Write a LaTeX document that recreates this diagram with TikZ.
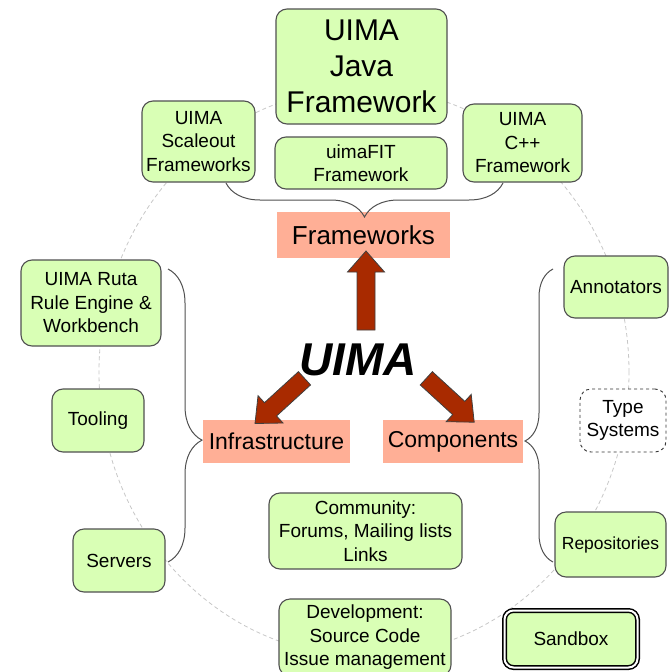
\documentclass[tikz,border=0pt]{standalone}
\usepackage{fontspec}
\setmainfont{Liberation Sans}
\usetikzlibrary{calc,decorations.pathreplacing}

\definecolor{uimagreen}{RGB}{217,255,181}
\definecolor{uimasalmon}{RGB}{255,175,150}
\definecolor{uimared}{RGB}{168,42,0}
\definecolor{uimaedge}{RGB}{80,80,80}

\newcommand\uimahugefont{\fontsize{30}{36}\selectfont}
\newcommand\uimabigfont{\fontsize{26}{30}\selectfont}
\newcommand\uimamidfont{\fontsize{23}{27}\selectfont}
\newcommand\uimafont{\fontsize{19}{23.5}\selectfont}
\newcommand\uimasmallfont{\fontsize{17.5}{21}\selectfont}
\newcommand\uimashaft{9pt}
\newcommand\uimawing{18.5pt}
\newcommand\uimahead{21pt}
\newcommand\uimaarrow[2]{
  \coordinate (#1-base) at ($(#2)!\uimahead!(#1)$) ;
  \draw[fatarrow] ($(#1)!\uimashaft!90:(#2)$) -- ($(#1-base)!\uimashaft!90:(#2)$)
    -- ($(#1-base)!\uimawing!90:(#2)$) -- (#2) -- ($(#1-base)!\uimawing!-90:(#2)$)
    -- ($(#1-base)!\uimashaft!-90:(#2)$) -- ($(#1)!\uimashaft!-90:(#2)$) -- cycle ;
}

\begin{document}
\begin{tikzpicture}[x=1pt, y=-1pt,
    greenbox/.style={draw=uimaedge, line width=1.1pt, fill=uimagreen, rounded corners=11pt,
      inner sep=0pt, align=center, font=\uimafont},
    salmonbox/.style={fill=uimasalmon, inner sep=0pt, font=\uimamidfont},
    ringline/.style={draw=black!22, line width=0.8pt, dash pattern=on 4pt off 3pt},
    bracestyle/.style={draw=uimaedge, line width=1pt, decorate},
    fatarrow/.style={fill=uimared, draw=black!75, line width=0.8pt, line join=miter}]
    \useasboundingbox (0,0) rectangle (669,672) ;
    \draw[ringline] (364,372) ellipse [x radius=265pt, y radius=284pt] ;
    % frameworks
    \node[greenbox, font=\uimahugefont, minimum width=171pt, minimum height=115pt] (java) at (361.5,66.5) {UIMA\\Java\\Framework} ;
    \node[greenbox, minimum width=113pt, minimum height=81pt] (scaleout) at (198.5,141.5) {UIMA\\Scaleout\\Frameworks} ;
    \node[greenbox, minimum width=172pt, minimum height=52pt] (uimafit) at (361,163) {uimaFIT\\Framework} ;
    \node[greenbox, minimum width=119pt, minimum height=78pt] (cpp) at (522.5,143) {UIMA\\C++\\Framework} ;
    \node[salmonbox, font=\uimabigfont, minimum width=173pt, minimum height=46pt] (frameworks) at (363.5,235) {Frameworks} ;
    % infrastructure
    \node[greenbox, minimum width=140pt, minimum height=86pt] (ruta) at (91,303) {UIMA Ruta\\Rule Engine \&\\Workbench} ;
    \node[greenbox, minimum width=92pt, minimum height=63pt] (tooling) at (98,420.5) {Tooling} ;
    \node[greenbox, minimum width=92pt, minimum height=63pt] (servers) at (119,560.5) {Servers} ;
    \node[salmonbox, minimum width=147pt, minimum height=43pt] (infrastructure) at (276.5,441.5) {Infrastructure} ;
    % components
    \node[greenbox, minimum width=104pt, minimum height=62pt] (annotators) at (616,287) {Annotators} ;
    \node[greenbox, fill=white, draw=black!80, dashed, line width=0.9pt, minimum width=86pt, minimum height=63pt] (typesystems) at (623,420.5) {Type\\Systems} ;
    \node[greenbox, font=\uimasmallfont, minimum width=111pt, minimum height=65pt] (repositories) at (610.5,544.5) {Repositories} ;
    \node[salmonbox, minimum width=140pt, minimum height=43pt] (components) at (453,441.5) {Components} ;
    % community
    \node[greenbox, minimum width=193pt, minimum height=76pt] (community) at (365.5,531) {Community:\\Forums, Mailing lists\\Links} ;
    \node[greenbox, minimum width=172pt, minimum height=77pt] (development) at (365,637.5) {Development:\\Source Code\\Issue management} ;
    \node[greenbox, draw=black, line width=1.5pt, double=white, double distance=2pt, rounded corners=9pt, minimum width=133pt, minimum height=57pt] (sandbox) at (571,639) {Sandbox} ;
    \node[inner sep=0pt, font=\fontsize{46}{50}\selectfont\bfseries\itshape] (uima) at (358,360) {UIMA} ;
    \coordinate (fwright) at (503,183) ;
    \coordinate (fwleft) at (226,183) ;
    \draw[bracestyle, decoration={brace, amplitude=34pt, aspect=0.5}] (fwright) -- (fwleft) ;
    \coordinate (infratop) at (168,269) ;
    \coordinate (infrabottom) at (168,562) ;
    \draw[bracestyle, decoration={brace, amplitude=34pt, aspect=0.584}] (infratop) -- (infrabottom) ;
    \coordinate (compbottom) at (553,562) ;
    \coordinate (comptop) at (553,269) ;
    \draw[bracestyle, decoration={brace, amplitude=28pt, aspect=0.413}] (compbottom) -- (comptop) ;
    \coordinate (uimaup) at (366,330) ;
    \coordinate (fwtip) at (366,251) ;
    \coordinate (uimaleft) at (304.5,378.3) ;
    \coordinate (infratip) at (255,423.5) ;
    \coordinate (uimaright) at (426.3,378.3) ;
    \coordinate (comptip) at (474.2,422.2) ;
    \uimaarrow{uimaup}{fwtip}
    \uimaarrow{uimaleft}{infratip}
    \uimaarrow{uimaright}{comptip}
\end{tikzpicture}
\end{document}
